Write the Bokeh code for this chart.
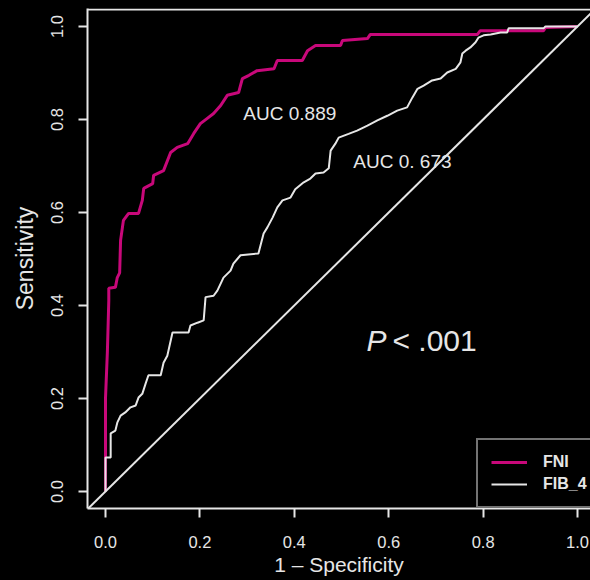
from bokeh.plotting import figure
from bokeh.models import (Range1d, Label, Legend, LegendItem, Slope, Span,
                          FixedTicker, PrintfTickFormatter)
from bokeh.embed import file_html
from bokeh.resources import INLINE

# ---- data ----
fni_fpr = [0.000, 0.000, 0.004, 0.007, 0.007, 0.021, 0.025, 0.030, 0.032, 0.038,
           0.049, 0.070, 0.078, 0.081, 0.100, 0.102, 0.123, 0.138, 0.152, 0.174,
           0.187, 0.201, 0.215, 0.229, 0.244, 0.258, 0.282, 0.290, 0.304, 0.321,
           0.357, 0.364, 0.417, 0.428, 0.445, 0.498, 0.502, 0.555, 0.561, 0.788,
           0.794, 0.851, 0.928, 0.932, 1.000]
fni_tpr = [0.000, 0.200, 0.300, 0.410, 0.437, 0.439, 0.460, 0.470, 0.540, 0.583,
           0.598, 0.598, 0.626, 0.652, 0.662, 0.680, 0.690, 0.729, 0.740, 0.748,
           0.770, 0.791, 0.802, 0.813, 0.830, 0.852, 0.858, 0.888, 0.895, 0.905,
           0.909, 0.927, 0.927, 0.948, 0.959, 0.959, 0.970, 0.974, 0.983, 0.983,
           0.991, 0.991, 0.991, 0.998, 1.000]

fib4_fpr = [0.000, 0.000, 0.011, 0.011, 0.021, 0.025, 0.032, 0.042, 0.053, 0.064,
            0.070, 0.078, 0.085, 0.091, 0.117, 0.123, 0.131, 0.142, 0.176, 0.180,
            0.195, 0.208, 0.212, 0.229, 0.237, 0.250, 0.265, 0.271, 0.286, 0.324,
            0.335, 0.343, 0.354, 0.364, 0.375, 0.392, 0.402, 0.420, 0.434, 0.445,
            0.462, 0.473, 0.477, 0.487, 0.494, 0.515, 0.533, 0.555, 0.576, 0.597,
            0.618, 0.639, 0.650, 0.661, 0.674, 0.692, 0.710, 0.724, 0.742, 0.752,
            0.756, 0.763, 0.773, 0.784, 0.790, 0.801, 0.816, 0.837, 0.851, 0.854,
            0.928, 0.932, 1.000]
fib4_tpr = [0.000, 0.073, 0.073, 0.125, 0.131, 0.148, 0.163, 0.170, 0.181, 0.185,
            0.202, 0.210, 0.232, 0.250, 0.250, 0.277, 0.292, 0.342, 0.342, 0.357,
            0.363, 0.368, 0.418, 0.421, 0.432, 0.460, 0.475, 0.490, 0.508, 0.512,
            0.555, 0.568, 0.589, 0.611, 0.626, 0.632, 0.650, 0.665, 0.673, 0.684,
            0.686, 0.695, 0.733, 0.748, 0.761, 0.769, 0.776, 0.787, 0.798, 0.808,
            0.819, 0.826, 0.847, 0.866, 0.873, 0.884, 0.888, 0.901, 0.909, 0.923,
            0.942, 0.948, 0.955, 0.966, 0.976, 0.981, 0.983, 0.987, 0.987, 0.996,
            0.996, 1.000, 1.000]

series_names = ["FNI", "FIB_4"]
auc_texts = ["AUC 0.889", "AUC 0. 673"]
p_text = ".001"
ticks = [0.0, 0.2, 0.4, 0.6, 0.8, 1.0]

FG = "#E6E6E6"
MAGENTA = "#C8087A"
FONT = "Liberation Sans"

p = figure(width=590, height=580, output_backend="svg", toolbar_location=None,
           x_range=Range1d(-0.0381, 1.0275), y_range=Range1d(-0.0366, 1.0387),
           background_fill_color="black", border_fill_color="black",
           outline_line_color=None,
           min_border_left=87, min_border_right=0, min_border_top=8,
           min_border_bottom=72)
p.grid.visible = False

r1 = p.line(fni_fpr, fni_tpr, line_color=MAGENTA, line_width=3)
r2 = p.line(fib4_fpr, fib4_tpr, line_color=FG, line_width=2)

p.add_layout(Slope(gradient=1, y_intercept=0, line_color=FG, line_width=2))
p.add_layout(Span(location=1.0366, dimension="width", line_color=FG, line_width=2))

for ax in (p.xaxis[0], p.yaxis[0]):
    ax.ticker = FixedTicker(ticks=ticks)
    ax.formatter = PrintfTickFormatter(format="%.1f")
    ax.axis_line_color = FG
    ax.axis_line_width = 2
    ax.major_tick_line_color = FG
    ax.major_tick_line_width = 2
    ax.major_tick_out = 9
    ax.major_tick_in = 0
    ax.minor_tick_line_color = None
    ax.major_label_text_color = FG
    ax.major_label_text_font = FONT
    ax.major_label_text_font_size = "16.5px"
    ax.axis_label_text_color = FG
    ax.axis_label_text_font = FONT
    ax.axis_label_text_font_style = "normal"

p.xaxis.axis_label = "1 \u2013 Specificity"
p.xaxis.axis_label_text_font_size = "21px"
p.xaxis.major_label_standoff = 18
p.xaxis.axis_label_standoff = 2
p.yaxis.axis_label = "Sensitivity"
p.yaxis.axis_label_text_font_size = "23px"
p.yaxis.major_label_orientation = "vertical"
p.yaxis.major_label_standoff = 15
p.yaxis.axis_label_standoff = 11

p.add_layout(Label(x=0.292, y=0.790, text=auc_texts[0], text_color=FG,
                   text_font=FONT, text_font_size="19px"))
p.add_layout(Label(x=0.525, y=0.688, text=auc_texts[1], text_color=FG,
                   text_font=FONT, text_font_size="19px"))
p.add_layout(Label(x=0.553, y=0.290, text="P", text_color=FG, text_font=FONT,
                   text_font_size="30px", text_font_style="italic"))
p.add_layout(Label(x=0.608, y=0.290, text="< " + p_text, text_color=FG,
                   text_font=FONT, text_font_size="30px"))

legend = Legend(items=[LegendItem(label=series_names[0], renderers=[r1]),
                       LegendItem(label=series_names[1], renderers=[r2])],
                location=(389, 0), margin=0, padding=13, spacing=4,
                glyph_width=36, glyph_height=16, label_height=16,
                label_width=60, label_standoff=16,
                label_text_font=FONT, label_text_font_size="16px",
                label_text_font_style="bold", label_text_color=FG,
                border_line_color=FG, border_line_width=2,
                background_fill_color="black", background_fill_alpha=1.0)
p.add_layout(legend)

html = file_html(p, INLINE).replace(
    "</head>", "<style>html,body{background:#000;}</style></head>", 1)
open("out.html", "w").write(html)
